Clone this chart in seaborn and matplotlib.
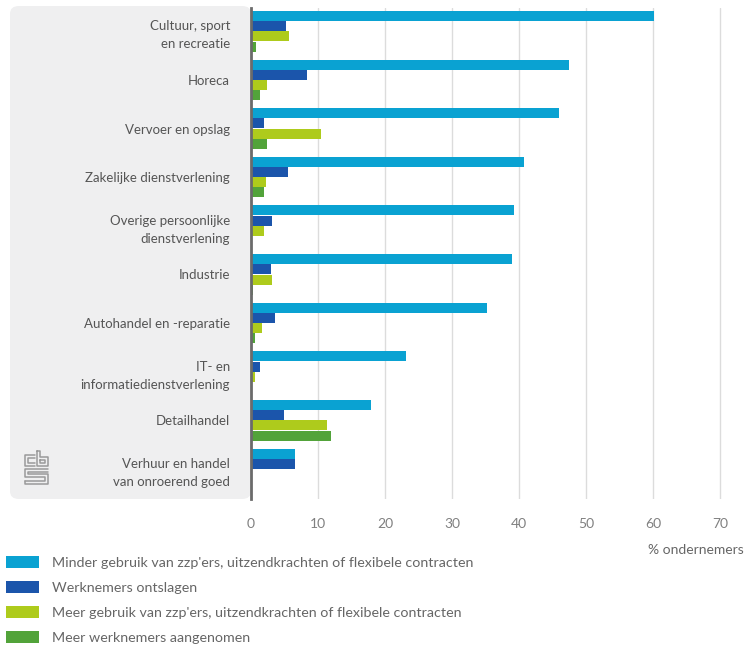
import pandas as pd
import matplotlib.pyplot as plt
import seaborn as sns
from matplotlib.patches import FancyBboxPatch
from matplotlib.lines import Line2D

categories = ['Cultuur, sport\nen recreatie', 'Horeca', 'Vervoer en opslag',
              'Zakelijke dienstverlening', 'Overige persoonlijke\ndienstverlening',
              'Industrie', 'Autohandel en -reparatie', 'IT- en\ninformatiedienstverlening',
              'Detailhandel', 'Verhuur en handel\nvan onroerend goed']

series = ["Minder gebruik van zzp'ers, uitzendkrachten of flexibele contracten",
          'Werknemers ontslagen',
          "Meer gebruik van zzp'ers, uitzendkrachten of flexibele contracten",
          'Meer werknemers aangenomen']

minder_flex = [60.1, 47.5, 46.0, 40.7, 39.2, 39.0, 35.2, 23.2, 17.9, 6.6]
ontslagen = [5.2, 8.4, 2.0, 5.5, 3.2, 3.0, 3.6, 1.4, 5.0, 6.6]
meer_flex = [5.6, 2.4, 10.5, 2.2, 2.0, 3.2, 1.6, 0.6, 11.3, 0.0]
aangenomen = [0.8, 1.4, 2.4, 2.0, 0.0, 0.3, 0.6, 0.0, 11.9, 0.0]

colors = ['#0aa2d2', '#1b55ab', '#aecb1c', '#52a33a']

# long format for seaborn
rows = []
for name, vals in zip(series, [minder_flex, ontslagen, meer_flex, aangenomen]):
    for cat, v in zip(categories, vals):
        rows.append({'categorie': cat, 'reeks': name, 'waarde': v})
df = pd.DataFrame(rows)

sns.set_style('white')
plt.rcParams['font.family'] = ['Lato', 'DejaVu Sans']

W, H = 747, 652
fig = plt.figure(figsize=(W / 100, H / 100), dpi=100)
fig.patch.set_facecolor('white')

# grey panel behind the category labels
panel = FancyBboxPatch((10 / W, 1 - 499 / H), 241 / W, 493 / H,
                       boxstyle='round,pad=0,rounding_size=0.012',
                       transform=fig.transFigure, facecolor='#efeff0',
                       edgecolor='none', zorder=-5)
fig.patches.append(panel)

ax = fig.add_axes([251 / W, 1 - 499 / H, 493 / W, 491 / H])
sns.barplot(data=df, y='categorie', x='waarde', hue='reeks', orient='h',
            palette=colors, width=0.84, gap=0.02, ax=ax, legend=True,
            saturation=1, linewidth=0, zorder=3)

ax.set_xlim(0, 73.6)
ax.set_ylim(9.62, -0.48)
ax.set_xticks(range(0, 80, 10))
ax.xaxis.grid(True, color='#dcdcdc', lw=1)
ax.set_axisbelow(True)
ax.set_xlabel('')
ax.set_ylabel('')
for s in ['top', 'right', 'bottom']:
    ax.spines[s].set_visible(False)
ax.spines['left'].set_color('#6b6b6b')
ax.spines['left'].set_linewidth(2)
ax.spines['left'].set_zorder(5)
ax.tick_params(axis='y', length=0, pad=15, labelsize=9.5, labelcolor='#555555')
ax.tick_params(axis='x', length=4, color='#e4e4e4', pad=10, labelsize=10, labelcolor='#808080')
for t in ax.get_yticklabels():
    t.set_multialignment('right')
    t.set_linespacing(1.6)

fig.text(744 / W, 1 - 550 / H, '% ondernemers', ha='right', va='center',
         fontsize=10, color='#666666')

handles, labels = ax.get_legend_handles_labels()
ax.get_legend().remove()
fig.legend(handles, labels, loc='upper left', bbox_to_anchor=(6 / W, 1 - 556 / H),
           frameon=False, fontsize=10.3, labelcolor='#666666', borderpad=0,
           borderaxespad=0, handlelength=2.3, handleheight=0.92,
           handletextpad=0.9, labelspacing=0.85)

# small cbs logo in the panel
lc = '#9a9a9a'
def seg(pts):
    xs = [p[0] / W for p in pts]
    ys = [1 - p[1] / H for p in pts]
    fig.add_artist(Line2D(xs, ys, color=lc, lw=1.1, transform=fig.transFigure))
# c
seg([(35, 455), (25, 455), (25, 466), (35, 466)])
seg([(35, 458), (28, 458), (28, 463), (35, 463)])
# b
seg([(37, 451), (37, 466), (48, 466), (48, 457), (40, 457), (40, 451), (37, 451)])
seg([(40, 460), (45, 460), (45, 463), (40, 463), (40, 460)])
# s
seg([(48, 469), (25, 469), (25, 477), (45, 477), (45, 481), (25, 481)])
seg([(48, 472), (28, 472), (28, 474), (48, 474), (48, 484), (25, 484), (25, 481)])

fig.savefig('out.png', dpi=100)
